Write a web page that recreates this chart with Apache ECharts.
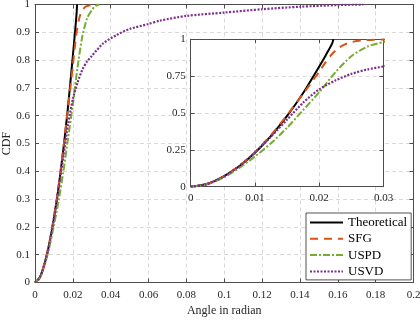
<!DOCTYPE html>
<html>
<head>
<meta charset="utf-8">
<script src="https://cdn.jsdelivr.net/npm/echarts@6/dist/echarts.min.js"></script>
<style>
  html, body { margin: 0; padding: 0; background: #fff; }
  #chart { width: 420px; height: 320px; }
</style>
</head>
<body>
<div id="chart"></div>
<script>
// series names
const names = ['Theoretical', 'SFG', 'USPD', 'USVD'];

// Theoretical
const theoX = [0, 0.0025, 0.005, 0.0075, 0.01, 0.0125, 0.015, 0.0175, 0.02, 0.021, 0.022, 0.0222];
const theoY = [0, 0.018, 0.066, 0.137, 0.23, 0.345, 0.48, 0.635, 0.815, 0.89, 0.97, 1.0];

// SFG
const sfgX = [0, 0.0025, 0.005, 0.0075, 0.01, 0.0125, 0.015, 0.0175, 0.019, 0.02, 0.021, 0.022, 0.023, 0.024, 0.025, 0.027, 0.03, 0.033];
const sfgY = [0, 0.018, 0.067, 0.14, 0.235, 0.35, 0.485, 0.63, 0.72, 0.78, 0.845, 0.9, 0.94, 0.965, 0.98, 0.993, 0.998, 1.0];

// USPD
const uspdX = [0, 0.0025, 0.005, 0.0075, 0.01, 0.0125, 0.015, 0.0175, 0.02, 0.0225, 0.025, 0.0275, 0.03, 0.032, 0.034];
const uspdY = [0, 0.015, 0.06, 0.125, 0.205, 0.295, 0.40, 0.52, 0.64, 0.775, 0.885, 0.95, 0.98, 0.995, 1.0];

// USVD
const usvdX = [0, 0.0025, 0.005, 0.0075, 0.01, 0.0125, 0.015, 0.0175, 0.02, 0.0225, 0.025, 0.0275, 0.03, 0.036, 0.043, 0.05, 0.06, 0.066, 0.08, 0.1, 0.12, 0.14, 0.16, 0.1735];
const usvdY = [0, 0.017, 0.066, 0.138, 0.232, 0.34, 0.455, 0.57, 0.66, 0.72, 0.765, 0.795, 0.815, 0.86, 0.89, 0.912, 0.93, 0.942, 0.959, 0.971, 0.983, 0.992, 0.998, 1.0];

const colors = ['#000000', '#D95319', '#77AC30', '#7E2F8E'];
const dashes = ['solid', [8, 6], [7, 2, 2, 2], [2, 1.5]];
const widths = [2, 2, 2, 2.2];

function pairs(xs, ys) { return xs.map((x, i) => [x, ys[i]]); }
const dataSets = [pairs(theoX, theoY), pairs(sfgX, sfgY), pairs(uspdX, uspdY), pairs(usvdX, usvdY)];

const font = 'Liberation Serif';
const axisCol = '#4d4d4d';
const gridCol = '#d9d9d9';
const fmt = v => String(+v.toFixed(3));

function mkAxis(o) {
  return Object.assign({
    type: 'value',
    axisLine: { show: true, onZero: false, lineStyle: { color: axisCol, width: 1 } },
    axisTick: { show: true, inside: true, length: 4, lineStyle: { color: axisCol } },
    axisLabel: { fontFamily: font, fontSize: 11, color: '#262626', formatter: fmt },
    splitLine: { show: true, lineStyle: { color: gridCol, type: [4, 3], width: 1 } }
  }, o);
}
function mkBox(o) {
  return mkAxis(Object.assign({ axisLabel: { show: false }, splitLine: { show: false } }, o));
}

const series = [];
names.forEach((n, i) => {
  const ls = { color: colors[i], width: widths[i], type: dashes[i] };
  series.push({ name: n, type: 'line', xAxisIndex: 0, yAxisIndex: 0, data: dataSets[i],
    symbol: 'none', smooth: 0.25, lineStyle: ls, itemStyle: { color: colors[i] }, z: 2 });
  series.push({ name: n, type: 'line', xAxisIndex: 2, yAxisIndex: 2, data: dataSets[i],
    symbol: 'none', smooth: 0.25, clip: true, lineStyle: ls, itemStyle: { color: colors[i] }, z: 8 });
});

const chart = echarts.init(document.getElementById('chart'));
chart.setOption({
  animation: false,
  backgroundColor: '#fff',
  grid: [
    { left: 35, right: 6.5, top: 4.5, bottom: 37.5, outerBoundsMode: 'none', containLabel: false },
    { left: 190.7, top: 39.2, width: 192.8, height: 147.5, outerBoundsMode: 'none', containLabel: false,
      show: true, backgroundColor: '#fff', borderWidth: 0, z: 5 }
  ],
  xAxis: [
    mkAxis({ gridIndex: 0, min: 0, max: 0.2, interval: 0.02, position: 'bottom',
      axisLabel: { fontFamily: font, fontSize: 11, color: '#262626', formatter: fmt, margin: 7 },
      name: 'Angle in radian', nameLocation: 'middle', nameGap: 22, nameMoveOverlap: false,
      nameTextStyle: { fontFamily: font, fontSize: 12, color: '#262626' } }),
    mkBox({ gridIndex: 0, min: 0, max: 0.2, interval: 0.02, position: 'top' }),
    mkAxis({ gridIndex: 1, min: 0, max: 0.03, interval: 0.01, position: 'bottom', z: 6,
      axisLabel: { fontFamily: font, fontSize: 11, color: '#262626', formatter: fmt, margin: 6 } }),
    mkBox({ gridIndex: 1, min: 0, max: 0.03, interval: 0.01, position: 'top', z: 6 })
  ],
  yAxis: [
    mkAxis({ gridIndex: 0, min: 0, max: 1, interval: 0.1, position: 'left',
      axisLabel: { fontFamily: font, fontSize: 11, color: '#262626', formatter: fmt, margin: 5 },
      name: 'CDF', nameLocation: 'middle', nameGap: 22, nameMoveOverlap: false,
      nameTextStyle: { fontFamily: font, fontSize: 12, color: '#262626' } }),
    mkBox({ gridIndex: 0, min: 0, max: 1, interval: 0.1, position: 'right' }),
    mkAxis({ gridIndex: 1, min: 0, max: 1, interval: 0.25, position: 'left', z: 6,
      axisLabel: { fontFamily: font, fontSize: 11, color: '#262626', formatter: fmt, margin: 5 } }),
    mkBox({ gridIndex: 1, min: 0, max: 1, interval: 0.25, position: 'right', z: 6 })
  ],
  legend: {
    data: names,
    orient: 'vertical',
    left: 306, top: 213,
    itemWidth: 33, itemHeight: 14, itemGap: 3.3,
    padding: [3, 4, 2, 3],
    backgroundColor: '#fff',
    borderColor: '#262626', borderWidth: 0.8, borderRadius: 0,
    itemStyle: { opacity: 0 },
    textStyle: { fontFamily: font, fontSize: 13, color: '#000' },
    z: 10
  },
  series: series
});
</script>
</body>
</html>
